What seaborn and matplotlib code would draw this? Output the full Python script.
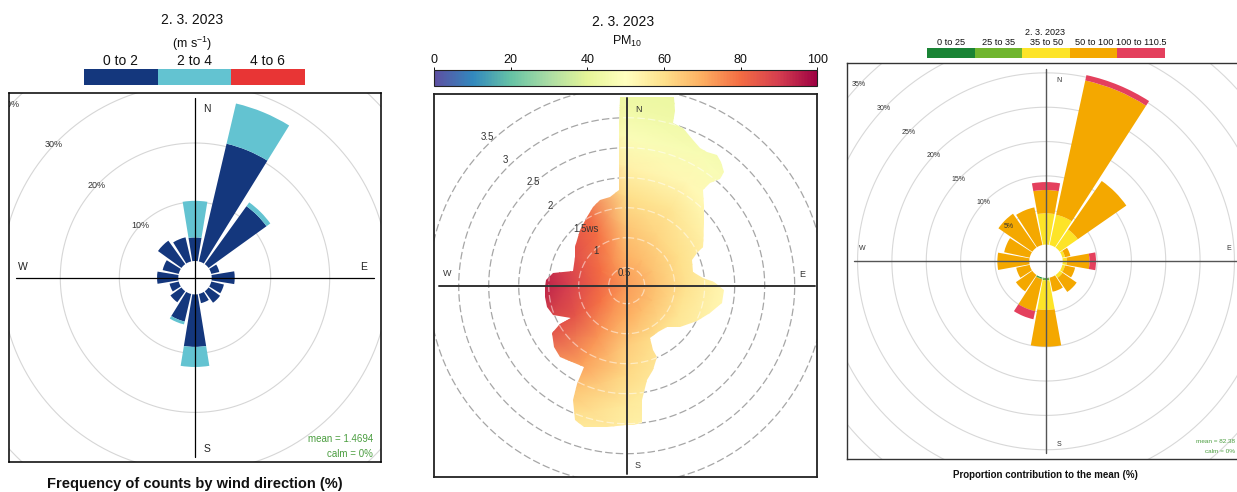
import numpy as np
import matplotlib
matplotlib.use("Agg")
import matplotlib.pyplot as plt
from matplotlib.colors import ListedColormap, Normalize
from matplotlib.cm import ScalarMappable
from matplotlib.patches import Polygon
import seaborn as sns

sns.set_theme(style="white")
plt.rcParams['font.family'] = ['Liberation Sans', 'DejaVu Sans']
plt.rcParams['mathtext.default'] = 'regular'

W, H = 1237, 492
date_label = "2. 3. 2023"

# sector centres of both wind roses (degrees from north)
directions = [0, 22.5, 45, 67.5, 90, 112.5, 135, 157.5, 180, 202.5, 225, 247.5, 270, 292.5, 315, 337.5]

# left: frequency of counts by wind direction (%), per wind speed band
speed_bins = ["0 to 2", "2 to 4", "4 to 6"]
speed_0_2 = [4.0, 20.5, 12.1, 1.4, 3.9, 2.2, 2.4, 1.6, 8.9, 4.8, 2.3, 1.6, 3.6, 2.8, 4.9, 4.2]
speed_2_4 = [6.2, 7.0, 0.8, 0, 0, 0, 0, 0, 3.4, 0.5, 0, 0, 0, 0, 0, 0]
speed_4_6 = [0, 0, 0, 0, 0, 0, 0, 0, 0, 0, 0, 0, 0, 0, 0, 0]
speed_colors = ["#14377d", "#63c3d1", "#e83535"]
freq_rings = [10, 20, 30, 40]
freq_notes = ["mean = 1.4694", "calm = 0%"]

# middle: PM10 surface over wind direction / wind speed
pm_grid_dirs = [0, 30, 60, 90, 120, 150, 180, 210, 240, 270, 300, 330]
pm_grid_ws = [0.2, 0.7, 1.2, 1.7, 2.2, 2.7, 3.2, 3.7]
pm_centre = 73
pm_ws07 = [69, 67, 66, 66, 66, 67, 70, 74, 79, 82, 80, 75]
pm_ws12 = [65, 62, 60, 59, 58, 60, 64, 74, 85, 90, 86, 80]
pm_ws17 = [60, 58, 55, 54, 54, 56, 61, 72, 86, 96, 90, 82]
pm_ws22 = [54, 52, 51, 50, 51, 54, 57, 66, 80, 95, 86, 76]
pm_ws27 = [48, 47, 48, 48, 50, 53, 55, 60, 72, 86, 78, 68]
pm_ws32 = [44, 44, 46, 47, 49, 52, 53, 57, 65, 78, 70, 62]
pm_ws37 = [42, 42, 45, 46, 48, 51, 52, 55, 60, 70, 65, 57]
# outline of the area that has data (direction, wind speed)
edge_dirs = [0, 8, 14, 15.5, 16, 19.8, 24.6, 28, 30.8, 34.6, 37.3, 40.5, 41.3, 39, 38.7, 44.1,
             50.9, 63, 65.2, 68.5, 78, 84.5, 87.4, 92.5, 100.5, 108.4, 117, 127.5, 136, 145.5,
             156, 157.5, 156.6, 162.5, 168, 172.5, 173.8, 177.3, 180, 188, 197, 201, 205, 207,
             208, 215.9, 223, 230, 237.6, 240.5, 239.3, 248.2, 255.3, 262, 269.3, 274, 279.5,
             285.4, 299, 307, 320, 330, 337, 342.7, 349.4, 355.6, 357.4, 358]
edge_ws = [3.35, 3.38, 3.44, 3.23, 3.02, 2.99, 2.87, 2.79, 2.80, 2.84, 2.80, 2.70, 2.56, 2.41,
           2.24, 2.04, 1.85, 1.63, 1.49, 1.37, 1.33, 1.48, 1.65, 1.82, 1.81, 1.66, 1.51, 1.32,
           1.16, 1.13, 1.16, 1.36, 1.49, 1.67, 1.81, 2.12, 2.51, 2.52, 2.52, 2.57, 2.66, 2.60,
           2.30, 2.03, 1.73, 1.76, 1.82, 1.79, 1.68, 1.48, 1.27, 1.52, 1.58, 1.57, 1.56, 1.54,
           1.44, 1.12, 1.19, 1.28, 1.41, 1.53, 1.63, 1.70, 1.71, 1.80, 2.91, 3.35]
ws_rings = [0.5, 1, 1.5, 2, 2.5, 3, 3.5]
pm_ticks = [0, 20, 40, 60, 80, 100]

# right: proportion contribution to the mean (%), per PM10 band
pm_bins = ["0 to 25", "25 to 35", "35 to 50", "50 to 100", "100 to 110.5"]
pm_0_25 = [0, 0, 0, 0, 0, 0, 0, 0, 0.1, 0.15, 0, 0, 0, 0, 0, 0]
pm_25_35 = [0, 0, 0, 0, 0, 0, 0, 0, 0.25, 0.1, 0, 0, 0, 0, 0, 0]
pm_35_50 = [4.55, 4.5, 3.2, 0.4, 0.6, 0.4, 0.5, 0, 4.3, 0, 0, 0, 0, 0, 0, 0]
pm_50_100 = [3.4, 20.0, 8.6, 0.8, 3.3, 1.5, 2.5, 2.1, 5.35, 4.75, 2.9, 2.0, 4.65, 3.8, 6.0, 5.6]
pm_100_110 = [1.15, 0.8, 0, 0, 0.95, 0, 0, 0, 0, 1.2, 0, 0, 0, 0, 0, 0]
pm_colors = ["#1a8435", "#70b52e", "#fde428", "#f4a800", "#e4405d"]
contrib_rings = [5, 10, 15, 20, 25, 30, 35]
contrib_notes = ["mean = 82.38", "calm = 0%"]

green = "#4a9d3f"
fig = plt.figure(figsize=(W / 100, H / 100), dpi=100)


def px_axes(x0, y0, x1, y1, **kw):
    return fig.add_axes([x0 / W, 1 - y1 / H, (x1 - x0) / W, (y1 - y0) / H], **kw)


def px_text(x, y, s, **kw):
    kw.setdefault("ha", "center")
    kw.setdefault("va", "center")
    return fig.text(x / W, 1 - y / H, s, **kw)


def frame_axes(box, lw, color):
    ax = px_axes(*box)
    ax.set_facecolor("none")
    ax.set_xticks([])
    ax.set_yticks([])
    for sp in ax.spines.values():
        sp.set_visible(True)
        sp.set_linewidth(lw)
        sp.set_color(color)
    ax.set_zorder(3)
    return ax


def polar_axes(cx, cy, R):
    ax = px_axes(cx - R, cy - R, cx + R, cy + R, projection="polar")
    ax.set_zorder(2)
    ax.patch.set_visible(False)
    for sp in ax.spines.values():
        # polar axes switch the inner spine back on while drawing, so blank it
        sp.set_edgecolor("none")
        sp.set_linewidth(0)
    ax.set_theta_zero_location("N")
    ax.set_theta_direction(-1)
    ax.grid(False)
    ax.set_xticks([])
    ax.set_yticks([])
    return ax


def clip_to(ax, frame, skip=()):
    for art in [*ax.patches, *ax.lines, *ax.collections, *ax.texts]:
        if art in skip:
            continue
        art.set_clip_path(None)
        art.set_clip_box(frame.bbox)
        art.set_clip_on(True)


def legend_strip(box, colors, labels, size, pad):
    ax = px_axes(*box)
    sns.heatmap(np.arange(len(colors))[None, :], cmap=ListedColormap(colors), cbar=False,
                ax=ax, xticklabels=labels, yticklabels=False, linewidths=0)
    ax.xaxis.tick_top()
    ax.set_xticklabels(labels, rotation=0)
    ax.tick_params(axis="x", length=0, pad=pad, labelsize=size, colors="#111111")
    return ax


full_circle = np.linspace(0, 2 * np.pi, 361)
theta = np.deg2rad(directions)
axis_angles = np.deg2rad([0, 90, 180, 270])

# ---------------- panel 1: frequency wind rose ----------------
px_text(192, 19.5, date_label, fontsize=10, color="#111111")
px_text(192, 43.5, r"(m s$^{-1}$)", fontsize=9, color="#111111")
legend_strip((84, 69, 304.7, 85), speed_colors, speed_bins, 10, 0.8)

f1 = frame_axes((9.3, 93.3, 380.7, 462.3), 1.1, "black")
p1 = polar_axes(195, 277.7, 270)
for ring in freq_rings:
    p1.plot(full_circle, [ring] * len(full_circle), color="#d6d6d6", lw=0.8, zorder=1)
bottom = np.zeros(len(directions))
for vals, col in zip([speed_0_2, speed_2_4, speed_4_6], speed_colors):
    p1.bar(theta, vals, width=np.deg2rad(18.5), bottom=bottom, color=col, linewidth=0, zorder=2)
    bottom += np.array(vals)
for a in axis_angles:
    p1.plot([a, a], [-2.83, 27.56], color="black", lw=0.9, zorder=3)
for ring in freq_rings:
    p1.text(np.deg2rad(313.3), ring, f"{ring}%", fontsize=6.5, color="#333333",
            ha="center", va="center", zorder=4)
p1.set_xlim(0, 2 * np.pi)
p1.set_rlim(0, 42.93)
p1.set_rorigin(-2.83)
clip_to(p1, f1)

for x, y, s in [(207.3, 109, "N"), (364, 267.3, "E"), (206.7, 449, "S"), (23.3, 266.7, "W")]:
    px_text(x, y, s, fontsize=7.5, color="#222222")
px_text(373.3, 439.3, freq_notes[0], fontsize=7, color=green, ha="right")
px_text(373.3, 454.3, freq_notes[1], fontsize=7, color=green, ha="right")
px_text(195, 484.3, "Frequency of counts by wind direction (%)", fontsize=10.5,
        fontweight="bold", color="#111111")

# ---------------- panel 2: PM10 polar surface ----------------
cmap = sns.color_palette("Spectral_r", as_cmap=True)
px_text(623.3, 21.7, date_label, fontsize=10, color="#111111")
px_text(626.7, 41, "PM$_{10}$", fontsize=9, color="#111111")
cax = px_axes(434, 70, 817.3, 86)
cb = fig.colorbar(ScalarMappable(Normalize(0, 100), cmap), cax=cax, orientation="horizontal",
                  ticklocation="top", ticks=pm_ticks)
cb.outline.set_linewidth(0.8)
cb.outline.set_edgecolor("#222222")
cax.tick_params(labelsize=9, length=2.5, width=0.7, pad=0.5, colors="#111111")

f2 = frame_axes((434, 94, 817.3, 477.3), 1.3, "#222222")
p2 = polar_axes(626.7, 285.7, 280)
pm_values = np.array([[pm_centre] * len(pm_grid_dirs), pm_ws07, pm_ws12, pm_ws17,
                      pm_ws22, pm_ws27, pm_ws32, pm_ws37], dtype=float)
pm_values = np.column_stack([pm_values, pm_values[:, 0]])
T, Rg = np.meshgrid(np.deg2rad(pm_grid_dirs + [360]), pm_grid_ws)
mesh = p2.pcolormesh(T, Rg, pm_values, shading="gouraud", cmap=cmap, vmin=0, vmax=100, zorder=2)
edge = Polygon(np.column_stack([np.deg2rad(edge_dirs), edge_ws]), closed=True,
               transform=p2.transData)
dash = (0, (6, 2.5))
for ring in ws_rings:
    p2.plot(full_circle, [ring] * len(full_circle), color="#a6a6a6", lw=0.9, ls=dash, zorder=1)
inner = []
for ring in ws_rings:
    inner += p2.plot(full_circle, [ring] * len(full_circle), color="white", alpha=0.5,
                     lw=0.9, ls=dash, zorder=3)
for a in axis_angles:
    p2.plot([a, a], [0.2, 3.33], color="#333333", lw=1.4, zorder=4)
p2.set_xlim(0, 2 * np.pi)
p2.set_rlim(0.2, 0.2 + 280 / 60)
clip_to(p2, f2, skip=[mesh] + inner)
for art in [mesh] + inner:
    art.set_clip_path(edge)
    art.set_clip_box(f2.bbox)

for x, y, s in [(624.5, 273, "0.5"), (596.3, 250.7, "1"), (586.5, 229, "1.5ws"),
                (550.7, 206.3, "2"), (533, 182.3, "2.5"), (505, 159.7, "3"), (487.3, 137.3, "3.5")]:
    px_text(x, y, s, fontsize=7, color="#333333", zorder=5)
for x, y, s in [(638.3, 109.3, "N"), (802.7, 274.3, "E"), (637.3, 465, "S"), (447.3, 274, "W")]:
    px_text(x, y, s, fontsize=6.5, color="#333333", zorder=5)

# ---------------- panel 3: contribution to the mean ----------------
px_text(1044.7, 32.5, date_label, fontsize=6.5, color="#111111")
legend_strip((927.3, 47.7, 1165, 57.7), pm_colors, pm_bins, 6.6, 0.8)

f3 = frame_axes((847.3, 63.3, 1244, 459), 1.0, "#333333")
p3 = polar_axes(1046, 261.3, 290)
for ring in contrib_rings:
    p3.plot(full_circle, [ring] * len(full_circle), color="#d8d8d8", lw=0.8, zorder=1)
bottom = np.zeros(len(directions))
for vals, col in zip([pm_0_25, pm_25_35, pm_35_50, pm_50_100, pm_100_110], pm_colors):
    p3.bar(theta, vals, width=np.deg2rad(20.5), bottom=bottom, color=col, linewidth=0, zorder=2)
    bottom += np.array(vals)
for a in axis_angles:
    p3.plot([a, a], [-2.43, 25.52], color="#555555", lw=1.0, zorder=3)
for ring in contrib_rings:
    p3.text(np.deg2rad(313.3), ring, f"{ring}%", fontsize=5, color="#333333",
            ha="center", va="center", zorder=4)
p3.set_xlim(0, 2 * np.pi)
p3.set_rlim(0, 39.78)
p3.set_rorigin(-2.43)
clip_to(p3, f3)

for x, y, s in [(1059.3, 80, "N"), (1228.3, 249, "E"), (1059.3, 445, "S"), (862.7, 249, "W")]:
    px_text(x, y, s, fontsize=5, color="#333333")
px_text(1235, 441.7, contrib_notes[0], fontsize=4.6, color=green, ha="right")
px_text(1235, 451.7, contrib_notes[1], fontsize=4.6, color=green, ha="right")
px_text(1045.3, 475, "Proportion contribution to the mean (%)", fontsize=7,
        fontweight="bold", color="#111111")

fig.savefig("out.png", dpi=100)
